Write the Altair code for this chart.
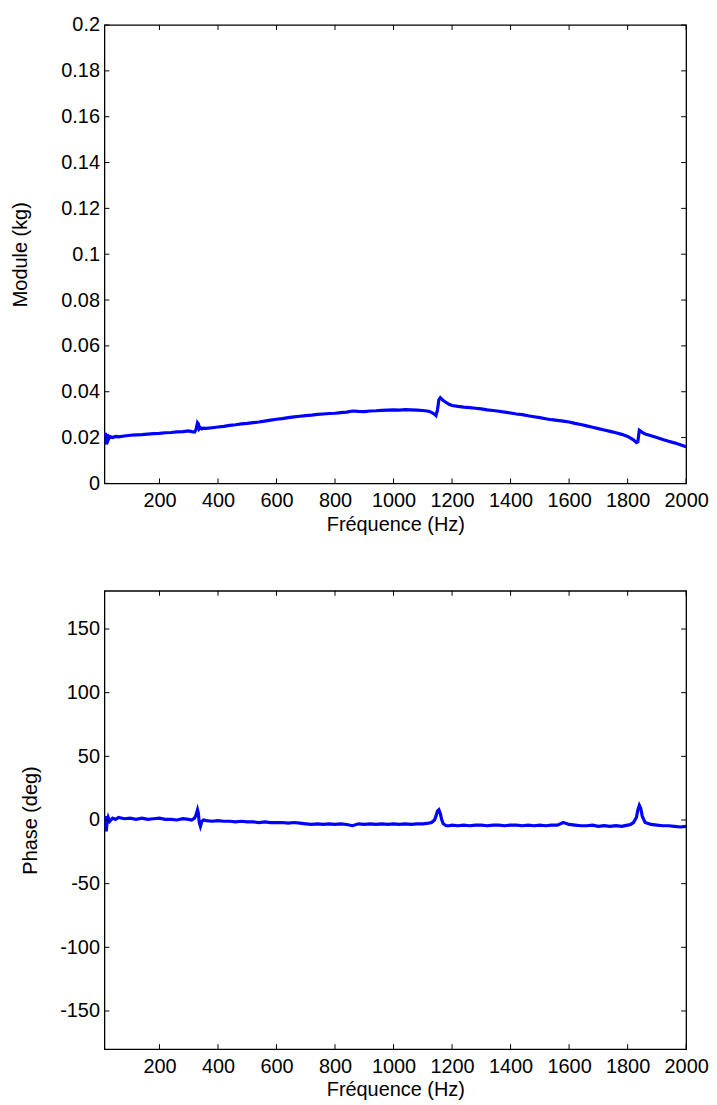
import altair as alt
import pandas as pd

# ---------------- data ----------------
freq = [12, 15, 18, 21, 25, 30, 40, 50, 60, 80, 100, 120, 140, 160, 180, 200,
        220, 240, 260, 280, 300, 310, 320, 325, 330, 333, 336, 340, 345, 350,
        360, 380, 400, 420, 440, 460, 480, 500, 520, 540, 560, 580, 600, 620,
        640, 660, 680, 700, 720, 740, 760, 780, 800, 820, 840, 860, 880, 900,
        920, 940, 960, 980, 1000, 1020, 1040, 1060, 1080, 1100, 1120, 1130,
        1140, 1145, 1150, 1155, 1160, 1165, 1170, 1180, 1190, 1200, 1220, 1240,
        1260, 1280, 1300, 1320, 1340, 1360, 1380, 1400, 1420, 1440, 1460, 1480,
        1500, 1520, 1540, 1560, 1580, 1600, 1620, 1640, 1660, 1680, 1700, 1720,
        1740, 1760, 1780, 1800, 1810, 1820, 1830, 1835, 1840, 1845, 1850, 1860,
        1880, 1900, 1920, 1940, 1960, 1980, 2000]

module_kg = [0.0205, 0.0220, 0.0170, 0.0215, 0.0190, 0.0205, 0.0200, 0.0205,
             0.0203, 0.0207, 0.0210, 0.0212, 0.0213, 0.0215, 0.0217, 0.0218,
             0.0221, 0.0222, 0.0225, 0.0226, 0.0229, 0.0226, 0.0224, 0.0235,
             0.0265, 0.0260, 0.0238, 0.0244, 0.0238, 0.0241, 0.0240, 0.0243,
             0.0246, 0.0249, 0.0253, 0.0256, 0.0260, 0.0262, 0.0265, 0.0268,
             0.0272, 0.0276, 0.0280, 0.0283, 0.0287, 0.0290, 0.0293, 0.0296,
             0.0298, 0.0301, 0.0303, 0.0305, 0.0306, 0.0309, 0.0311, 0.0316,
             0.0314, 0.0313, 0.0316, 0.0317, 0.0319, 0.0320, 0.0321, 0.0320,
             0.0322, 0.0321, 0.0320, 0.0318, 0.0315, 0.0310, 0.0302, 0.0296,
             0.0320, 0.0365, 0.0374, 0.0368, 0.0362, 0.0353, 0.0345, 0.0340,
             0.0336, 0.0333, 0.0331, 0.0328, 0.0325, 0.0321, 0.0318, 0.0315,
             0.0311, 0.0307, 0.0303, 0.0300, 0.0295, 0.0291, 0.0287, 0.0282,
             0.0278, 0.0275, 0.0272, 0.0268, 0.0262, 0.0257, 0.0251, 0.0245,
             0.0239, 0.0233, 0.0227, 0.0221, 0.0214, 0.0205, 0.0198, 0.0190,
             0.0178, 0.0182, 0.0232, 0.0228, 0.0222, 0.0216, 0.0208, 0.0200,
             0.0192, 0.0184, 0.0177, 0.0169, 0.0160]

phase_deg = [1, 3, -9, -2, 2, -1, 1.5, 0.5, 2, 1, 1.5, 0.5, 1.5, 0.5, 1, 1.5,
             0.5, 0.5, 0, 1, 0.5, 0, 1.5, 4, 8, 5, -2, -5, -1, 0,
             -0.5, -1, -0.5, -1, -1, -1.5, -1, -1.5, -1.5, -2, -1.5, -2, -2, -2,
             -2.5, -2, -2.5, -3, -3.5, -3, -3.5, -3, -3.5, -3, -3.5, -4.5, -3, -3.5,
             -3, -3.5, -3, -3.5, -3, -3.5, -3, -3.5, -3, -3, -2.5, -2,
             0, 3, 7, 8, 5, 0, -3, -4.5, -4.5, -4, -4.5, -4,
             -4.5, -4, -4, -4.5, -4, -4, -4.5, -4, -4, -4.5, -4, -4.5,
             -4, -4.5, -4, -4, -2, -3.5, -4, -4.5, -4.5, -4, -5, -4.5,
             -5, -4.5, -5, -4, -3.5, -2, 2, 8, 11.5, 9, 3, -2,
             -3.5, -4, -4.5, -4.5, -5, -5.5, -5]

x_ticks = [200, 400, 600, 800, 1000, 1200, 1400, 1600, 1800, 2000]
module_ticks = [0, 0.02, 0.04, 0.06, 0.08, 0.1, 0.12, 0.14, 0.16, 0.18, 0.2]
phase_ticks = [-150, -100, -50, 0, 50, 100, 150]

# ---------------- layout / style ----------------
W, H, TL = 585, 461, 5
FONT = "Liberation Sans"
X_DOMAIN = [12, 2000]

df = pd.DataFrame({"f": freq, "m": module_kg, "p": phase_deg})
xt = pd.DataFrame({"t": x_ticks})


def panel(ycol, ytitle, ydom, yticks, label_expr, title_pad):
    xscale = alt.Scale(domain=X_DOMAIN, nice=False, zero=False)
    yscale = alt.Scale(domain=ydom, nice=False, zero=False)
    xaxis = alt.Axis(values=x_ticks, format="d", title="Fréquence (Hz)",
                     ticks=False, domain=False, labelPadding=7,
                     titlePadding=4, labelOverlap=False, labelFlush=False)
    yaxis = alt.Axis(values=yticks, labelExpr=label_expr, title=ytitle,
                     ticks=False, domain=False, labelPadding=5,
                     titlePadding=title_pad, labelOverlap=False,
                     labelFlush=False)
    line = alt.Chart(df).mark_line(color="#0000FF", strokeWidth=3.2, clip=True).encode(
        x=alt.X("f:Q", scale=xscale, axis=xaxis),
        y=alt.Y(f"{ycol}:Q", scale=yscale, axis=yaxis),
    )
    yt = pd.DataFrame({"t": yticks})
    x_bot = alt.Chart(xt).mark_rule(color="black").encode(
        x=alt.X("t:Q", scale=xscale, axis=xaxis), y=alt.value(H), y2=alt.value(H - TL))
    x_top = alt.Chart(xt).mark_rule(color="black").encode(
        x=alt.X("t:Q", scale=xscale, axis=xaxis), y=alt.value(0), y2=alt.value(TL))
    y_left = alt.Chart(yt).mark_rule(color="black").encode(
        y=alt.Y("t:Q", scale=yscale, axis=yaxis), x=alt.value(0), x2=alt.value(TL))
    y_right = alt.Chart(yt).mark_rule(color="black").encode(
        y=alt.Y("t:Q", scale=yscale, axis=yaxis), x=alt.value(W), x2=alt.value(W - TL))
    return alt.layer(line, x_bot, x_top, y_left, y_right).properties(
        width=W, height=H, view=alt.ViewBackground(stroke="black", strokeWidth=1.3))


top = panel("m", "Module (kg)", [0, 0.2], module_ticks,
            "format(datum.value, '~g')", 30)
bottom = panel("p", "Phase (deg)", [-180, 180], phase_ticks,
               "datum.value < 0 ? '-' + abs(datum.value) : '' + datum.value", 19)

chart = alt.vconcat(top, bottom, spacing=54).properties(
    padding={"left": 2, "top": 3, "right": 0, "bottom": 0},
    background="white",
).configure_view(
    stroke="black", strokeWidth=1.3
).configure_axis(
    labelFont=FONT, titleFont=FONT, labelFontSize=20, titleFontSize=20,
    titleFontWeight="normal", labelColor="black", titleColor="black", grid=False
)

chart.save("out.html", embed_options={"renderer": "svg", "actions": False})
